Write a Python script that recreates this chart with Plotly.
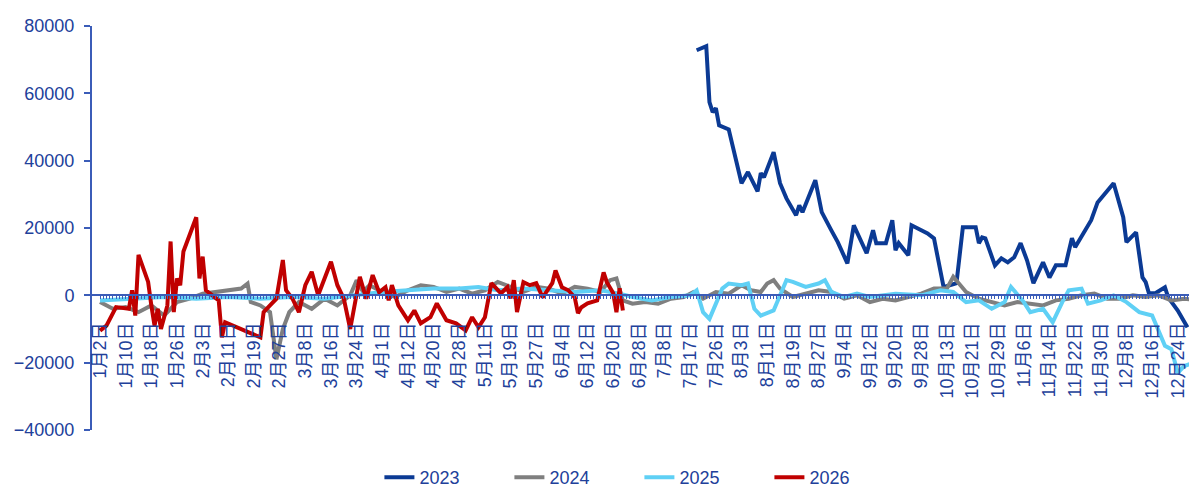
import datetime as dt
import plotly.graph_objects as go

# Tick labels on the category axis (every 8th category is labelled)
tick_labels = [
    "1月2日", "1月10日", "1月18日", "1月26日", "2月3日", "2月11日", "2月19日", "2月27日",
    "3月8日", "3月16日", "3月24日", "4月1日", "4月12日", "4月20日", "4月28日", "5月11日",
    "5月19日", "5月27日", "6月4日", "6月12日", "6月20日", "6月28日", "7月8日", "7月17日",
    "7月26日", "8月3日", "8月11日", "8月19日", "8月27日", "9月4日", "9月12日", "9月20日",
    "9月28日", "10月13日", "10月21日", "10月29日", "11月6日", "11月14日", "11月22日",
    "11月30日", "12月8日", "12月16日", "12月24日",
]

# Series 2023
x_2023 = ["7月19日", "7月22日", "7月23日", "7月24日", "7月26日", "7月27日", "7月30日", "8月1日",
          "8月3日", "8月5日", "8月8日", "8月9日", "8月10日", "8月13日", "8月15日", "8月17日",
          "8月20日", "8月21日", "8月22日", "8月26日", "8月28日", "8月31日", "9月2日", "9月5日",
          "9月7日", "9月11日", "9月13日", "9月14日", "9月17日", "9月19日", "9月20日", "9月21日",
          "9月24日", "9月25日", "9月30日", "10月2日", "10月5日", "10月16日", "10月18日",
          "10月22日", "10月23日", "10月24日", "10月25日", "10月28日", "10月30日", "11月1日",
          "11月3日", "11月5日", "11月7日", "11月9日", "11月12日", "11月14日", "11月16日",
          "11月19日", "11月21日", "11月22日", "11月27日", "11月29日", "12月4日", "12月7日",
          "12月8日", "12月11日", "12月13日", "12月14日", "12月15日", "12月17日", "12月20日",
          "12月21日", "12月24日", "12月27日"]
y_2023 = [72800, 74000, 57400, 54400, 55600, 50500, 49300, 41000,
          33300, 36600, 30900, 36300, 35100, 42500, 33300, 28800,
          23800, 26700, 24700, 34200, 24700, 19300, 15800, 9500,
          20800, 12500, 19300, 15500, 15500, 22300, 13400, 15500,
          11900, 20800, 18400, 16900, 2400, 3600, 20200,
          20200, 15500, 17200, 16900, 8900, 11000, 9800,
          11300, 15500, 10400, 3600, 9800, 5300, 8900,
          8900, 17000, 14300, 22300, 27600, 33300, 23200,
          15800, 18700, 5300, 3900, 600, 600, 2400,
          -600, -4500, -9500]

# Series 2024
x_2024 = ["1月2日", "1月6日", "1月10日", "1月14日", "1月18日", "1月22日", "1月26日", "1月30日",
          "2月3日", "2月7日", "2月15日", "2月17日", "2月18日", "2月21日", "2月24日", "2月26日",
          "2月28日", "3月2日", "3月5日", "3月10日", "3月14日", "3月18日", "3月22日", "3月24日",
          "3月26日", "3月28日", "4月1日", "4月5日", "4月12日", "4月16日", "4月20日", "4月24日",
          "4月28日", "5月2日", "5月11日", "5月15日", "5月19日", "5月23日", "5月27日", "5月31日",
          "6月4日", "6月8日", "6月12日", "6月16日", "6月19日", "6月21日", "6月23日", "6月26日",
          "6月30日", "7月4日", "7月10日", "7月14日", "7月18日", "7月21日", "7月26日", "7月30日",
          "8月3日", "8月6日", "8月9日", "8月11日", "8月13日", "8月15日", "8月19日", "8月23日",
          "8月27日", "8月31日", "9月4日", "9月8日", "9月12日", "9月16日", "9月20日", "9月24日",
          "9月28日", "10月2日", "10月13日", "10月15日", "10月19日", "10月23日", "10月27日",
          "10月31日", "11月4日", "11月8日", "11月12日", "11月16日", "11月20日", "11月24日",
          "11月28日", "12月2日", "12月6日", "12月10日", "12月14日", "12月18日", "12月22日",
          "12月26日", "12月31日"]
y_2024 = [-2000, -4000, -3500, -5000, -3000, -6000, -2000, -1000,
          500, 1000, 2000, 3500, -2000, -3000, -5000, -19000,
          -10000, -5000, -2000, -4000, -1000, -3000, 0, 4500,
          1000, 3000, 1000, -500, 1500, 3000, 2500, 1000,
          2000, 500, 1500, 4000, 2500, 1000, 2500, 2000,
          500, 2500, 2000, 1000, 4500, 5000, -1500, -2500,
          -2000, -2500, -1000, -500, 1000, -1000, 1000, 500,
          3000, 1500, 1000, 3500, 4500, 2000, -500, 500,
          1500, 1000, -1000, 0, -2000, -1000, -1500, -500,
          500, 2000, 2000, 5500, 1000, -1000, -2000,
          -3000, -2000, -2500, -3000, -1500, -1000, 0,
          500, -1000, -1000, 0, -500, 0, -1500,
          -1000, -1500]

# Series 2025
x_2025 = ["1月2日", "1月12日", "1月22日", "2月1日", "2月11日", "2月21日", "3月3日", "3月14日",
          "3月24日", "4月1日", "4月12日", "4月20日", "4月28日", "5月4日", "5月15日", "5月23日",
          "5月31日", "6月8日", "6月16日", "6月22日", "6月26日", "7月2日", "7月10日", "7月17日",
          "7月19日", "7月21日", "7月23日", "7月28日", "7月30日", "8月3日", "8月5日", "8月7日",
          "8月9日", "8月13日", "8月17日", "8月19日", "8月23日", "8月27日", "8月29日", "8月31日",
          "9月4日", "9月8日", "9月12日", "9月20日", "9月28日", "10月4日", "10月15日", "10月19日",
          "10月23日", "10月27日", "10月31日", "11月2日", "11月6日", "11月8日", "11月12日",
          "11月15日", "11月18日", "11月20日", "11月24日", "11月26日", "11月30日", "12月4日",
          "12月8日", "12月12日", "12月16日", "12月20日", "12月22日", "12月24日", "12月26日",
          "12月29日"]
y_2025 = [-1500, -1000, -500, -1000, -500, -1000, -500, -1000,
          0, 1000, 1500, 2000, 2000, 2500, 1500, 2000,
          1500, 1000, 1500, 500, -500, -1500, -500, 0,
          1500, -5000, -7000, 2000, 3500, 3000, 3500, -4000,
          -6000, -4500, 4500, 4000, 2500, 3500, 4500, 1000,
          -500, 500, -500, 500, 0, 1500, 1000, -2000,
          -1500, -4000, -2000, 2500, -2000, -5000, -4000,
          -8000, -2000, 1500, 2000, -2500, -1500, 0,
          -2000, -5000, -6000, -15000, -16000, -23000, -21000,
          -20000]

# Series 2026
x_2026 = ["1月2日", "1月4日", "1月7日", "1月11日", "1月12日", "1月13日", "1月14日", "1月17日",
          "1月18日", "1月19日", "1月20日", "1月21日", "1月23日", "1月24日", "1月25日", "1月26日",
          "1月27日", "1月28日", "2月1日", "2月2日", "2月3日", "2月4日", "2月6日", "2月8日",
          "2月9日", "2月10日", "2月21日", "2月22日", "2月24日", "2月26日", "2月28日", "3月1日",
          "3月3日", "3月5日", "3月8日", "3月10日", "3月12日", "3月16日", "3月18日", "3月20日",
          "3月22日", "3月23日", "3月25日", "3月27日", "3月29日", "3月31日", "4月2日", "4月3日",
          "4月4日", "4月6日", "4月12日", "4月14日", "4月16日", "4月19日", "4月21日", "4月24日",
          "4月27日", "4月30日", "5月2日", "5月4日", "5月11日", "5月13日", "5月16日", "5月18日",
          "5月19日", "5月20日", "5月21日", "5月23日", "5月25日", "5月27日", "5月29日", "6月1日",
          "6月2日", "6月4日", "6月6日", "6月8日", "6月9日", "6月10日", "6月12日", "6月15日",
          "6月17日", "6月18日", "6月20日", "6月21日", "6月22日", "6月23日"]
y_2026 = [-10500, -9000, -3500, -4000, 1500, -6000, 12000, 4000,
          -3000, -9000, -4000, -10000, -3000, 16000, -5000, 5000,
          3000, 13000, 23200, 5000, 11500, 1500, 0, -1500,
          -12500, -8000, -12500, -5000, -3000, -1000, 10500, 1500,
          -1000, -5000, 3000, 7000, 0, 10000, 3000, -1000,
          -10000, -5000, 5500, -1000, 6000, 900, 2400, -1500,
          3000, -3000, -7400, -4500, -8300, -6500, -2400, -7400,
          -8300, -10400, -6500, -9500, -6500, 3600, 600, 2400,
          -900, 4500, -5000, 3900, 3000, 3600, -600, 3600,
          7400, 2400, 1500, -600, -5300, -3600, -2400, -1500,
          6800, 3900, 600, -5000, 2100, -4500]

# Build the full list of categories: each labelled date plus the following 7 days
categories = []
for lab in tick_labels:
    m, d = lab[:-1].split("月")
    d0 = dt.date(2023, int(m), int(d))
    for k in range(8):
        day = d0 + dt.timedelta(days=k)
        categories.append(f"{day.month}月{day.day}日")

tick_text = [c if c in tick_labels else "" for c in categories]

AXIS_BLUE = "#3b5cb8"
TEXT_BLUE = "#21409a"
FONT = "Arial, 'Liberation Sans', 'Noto Sans CJK SC', sans-serif"

series = [
    ("2023", x_2023, y_2023, "#0b3a94"),
    ("2024", x_2024, y_2024, "#7f7f7f"),
    ("2025", x_2025, y_2025, "#5fd0f5"),
    ("2026", x_2026, y_2026, "#c00000"),
]

fig = go.Figure()
for name, xs, ys, color in series:
    fig.add_trace(go.Scatter(
        x=xs, y=ys, name=name, mode="lines",
        line=dict(color=color, width=4),
    ))

fig.update_layout(
    width=1189, height=487,
    margin=dict(l=92, r=0, t=26, b=57, autoexpand=False),
    paper_bgcolor="white", plot_bgcolor="white",
    font=dict(family=FONT, color=TEXT_BLUE, size=18),
    showlegend=True,
    legend=dict(
        orientation="h", x=0.262, xanchor="left", y=-0.118, yanchor="middle",
        font=dict(size=18, color=TEXT_BLUE), bgcolor="rgba(0,0,0,0)",
        entrywidth=85, entrywidthmode="pixels", itemwidth=30,
    ),
)

fig.update_yaxes(
    range=[-40000, 80000], dtick=20000, tickformat="d",
    showgrid=False, zeroline=False,
    showline=True, linecolor=AXIS_BLUE, linewidth=2,
    ticks="outside", ticklen=6, tickcolor=AXIS_BLUE, tickwidth=1.5,
    tickfont=dict(size=18, color=TEXT_BLUE), ticklabelstandoff=6,
    automargin=False,
)

fig.update_xaxes(
    type="category", categoryorder="array", categoryarray=categories,
    range=[-2.5, 339.5],
    anchor="free", position=1 / 3,
    showgrid=False, zeroline=False,
    showline=True, linecolor=AXIS_BLUE, linewidth=2,
    ticks="outside", ticklen=3, tickcolor=AXIS_BLUE, tickwidth=1,
    tickmode="array", tickvals=categories, ticktext=tick_text,
    tickangle=-90, tickfont=dict(size=18, color=TEXT_BLUE), ticklabelstandoff=16,
    automargin=False,
)

fig.write_html("out.html")
